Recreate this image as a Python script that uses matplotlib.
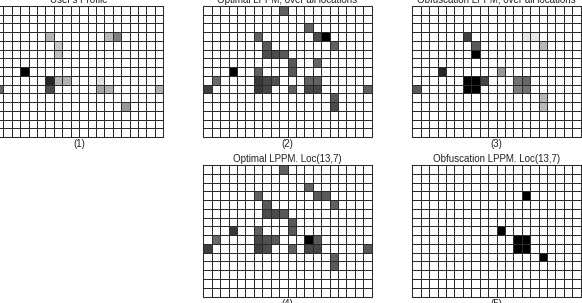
import numpy as np
import matplotlib
matplotlib.use("Agg")
import matplotlib.pyplot as plt

plt.rcParams['font.family'] = ['Liberation Sans', 'DejaVu Sans']

N_ROWS, N_COLS = 15, 20

# (row, col, intensity) for each non-empty cell; intensity 0 = white, 1 = black
profile_cells = [(3, 6, 0.30), (3, 13, 0.28), (3, 14, 0.50), (4, 7, 0.22), (5, 7, 0.25),
                 (7, 3, 1.00), (8, 6, 0.85), (8, 7, 0.30), (8, 8, 0.30), (8, 12, 0.12),
                 (9, 0, 0.60), (9, 6, 0.70), (9, 12, 0.35), (9, 13, 0.30), (9, 19, 0.30),
                 (11, 15, 0.40)]

optimal_all_cells = [(0, 9, 0.62), (2, 12, 0.62), (3, 6, 0.62), (3, 13, 0.70), (3, 14, 1.00),
                     (4, 7, 0.65), (4, 15, 0.62), (5, 7, 0.70), (5, 8, 0.70), (5, 9, 0.65),
                     (6, 10, 0.65), (6, 13, 0.60), (7, 3, 1.00), (7, 6, 0.62), (7, 10, 0.65),
                     (8, 1, 0.58), (8, 6, 0.78), (8, 7, 0.72), (8, 8, 0.68), (8, 12, 0.62),
                     (8, 13, 0.62), (9, 0, 0.75), (9, 6, 0.78), (9, 7, 0.72), (9, 10, 0.62),
                     (9, 12, 0.72), (9, 13, 0.72), (9, 19, 0.62), (10, 15, 0.65), (11, 15, 0.70)]

obfuscation_all_cells = [(3, 6, 0.75), (3, 13, 0.10), (3, 14, 0.10), (4, 7, 0.65), (4, 15, 0.28),
                         (5, 7, 1.00), (7, 3, 0.85), (7, 10, 0.40), (8, 6, 1.00), (8, 7, 1.00),
                         (8, 8, 0.72), (8, 12, 0.55), (8, 13, 0.60), (9, 0, 0.65), (9, 6, 1.00),
                         (9, 7, 1.00), (9, 12, 0.50), (9, 13, 0.55), (10, 15, 0.28), (11, 15, 0.28)]

optimal_loc_cells = [(0, 9, 0.62), (2, 12, 0.62), (3, 6, 0.62), (3, 13, 0.65), (3, 14, 0.65),
                     (4, 7, 0.65), (4, 15, 0.62), (5, 7, 0.70), (5, 8, 0.70), (5, 9, 0.65),
                     (6, 10, 0.65), (7, 3, 0.78), (7, 6, 0.62), (7, 10, 0.65),
                     (8, 1, 0.58), (8, 6, 0.72), (8, 7, 0.68), (8, 8, 0.65), (8, 12, 1.00),
                     (8, 13, 0.65), (9, 0, 0.75), (9, 6, 0.75), (9, 7, 0.70), (9, 10, 0.62),
                     (9, 12, 0.72), (9, 13, 0.72), (9, 19, 0.65), (10, 15, 0.62), (11, 15, 0.65)]

obfuscation_loc_cells = [(3, 13, 1.0), (7, 10, 1.0), (8, 12, 1.0), (8, 13, 1.0),
                         (9, 12, 1.0), (9, 13, 1.0), (10, 15, 1.0)]

titles = ["User's Profile", "Optimal LPPM, over all locations",
          "Obfuscation LPPM, over all locations",
          "Optimal LPPM. Loc(13,7)", "Obfuscation LPPM. Loc(13,7)"]
labels = ["(1)", "(2)", "(3)", "(4)", "(5)"]
panels = [profile_cells, optimal_all_cells, obfuscation_all_cells,
          optimal_loc_cells, obfuscation_loc_cells]

W, H = 582, 303
fig = plt.figure(figsize=(W / 100, H / 100), dpi=100)

# axes boxes in pixels: (left, top, width, height)
boxes = [(-5.1, 6, 168.4, 131), (203.3, 6, 168.4, 131), (412.3, 6, 168.4, 131),
         (203.3, 165, 168.4, 131.5), (412.3, 165, 168.4, 131.5)]

LINE = '#2a2a2a'
for cells, title, lab, (l, t, w, h) in zip(panels, titles, labels, boxes):
    ax = fig.add_axes([l / W, (H - t - h) / H, w / W, h / H])
    grid = np.zeros((N_ROWS, N_COLS))
    for r, c, v in cells:
        grid[r, c] = v
    ax.pcolormesh(np.arange(N_COLS + 1), np.arange(N_ROWS + 1), grid,
                  cmap='gray_r', vmin=0, vmax=1, edgecolors=LINE, linewidth=0.7)
    ax.set_xlim(0, N_COLS)
    ax.set_ylim(N_ROWS, 0)
    ax.set_xticks([])
    ax.set_yticks([])
    for s in ax.spines.values():
        s.set_color(LINE)
        s.set_linewidth(0.75)
    ax.set_title(title, fontsize=7, color='#222222', pad=2.5)
    ax.annotate(lab, xy=(0.5, 0), xycoords='axes fraction', xytext=(0, -1.5),
                textcoords='offset points', ha='center', va='top', fontsize=7,
                color='#222222')

fig.savefig('out.png', dpi=100)
